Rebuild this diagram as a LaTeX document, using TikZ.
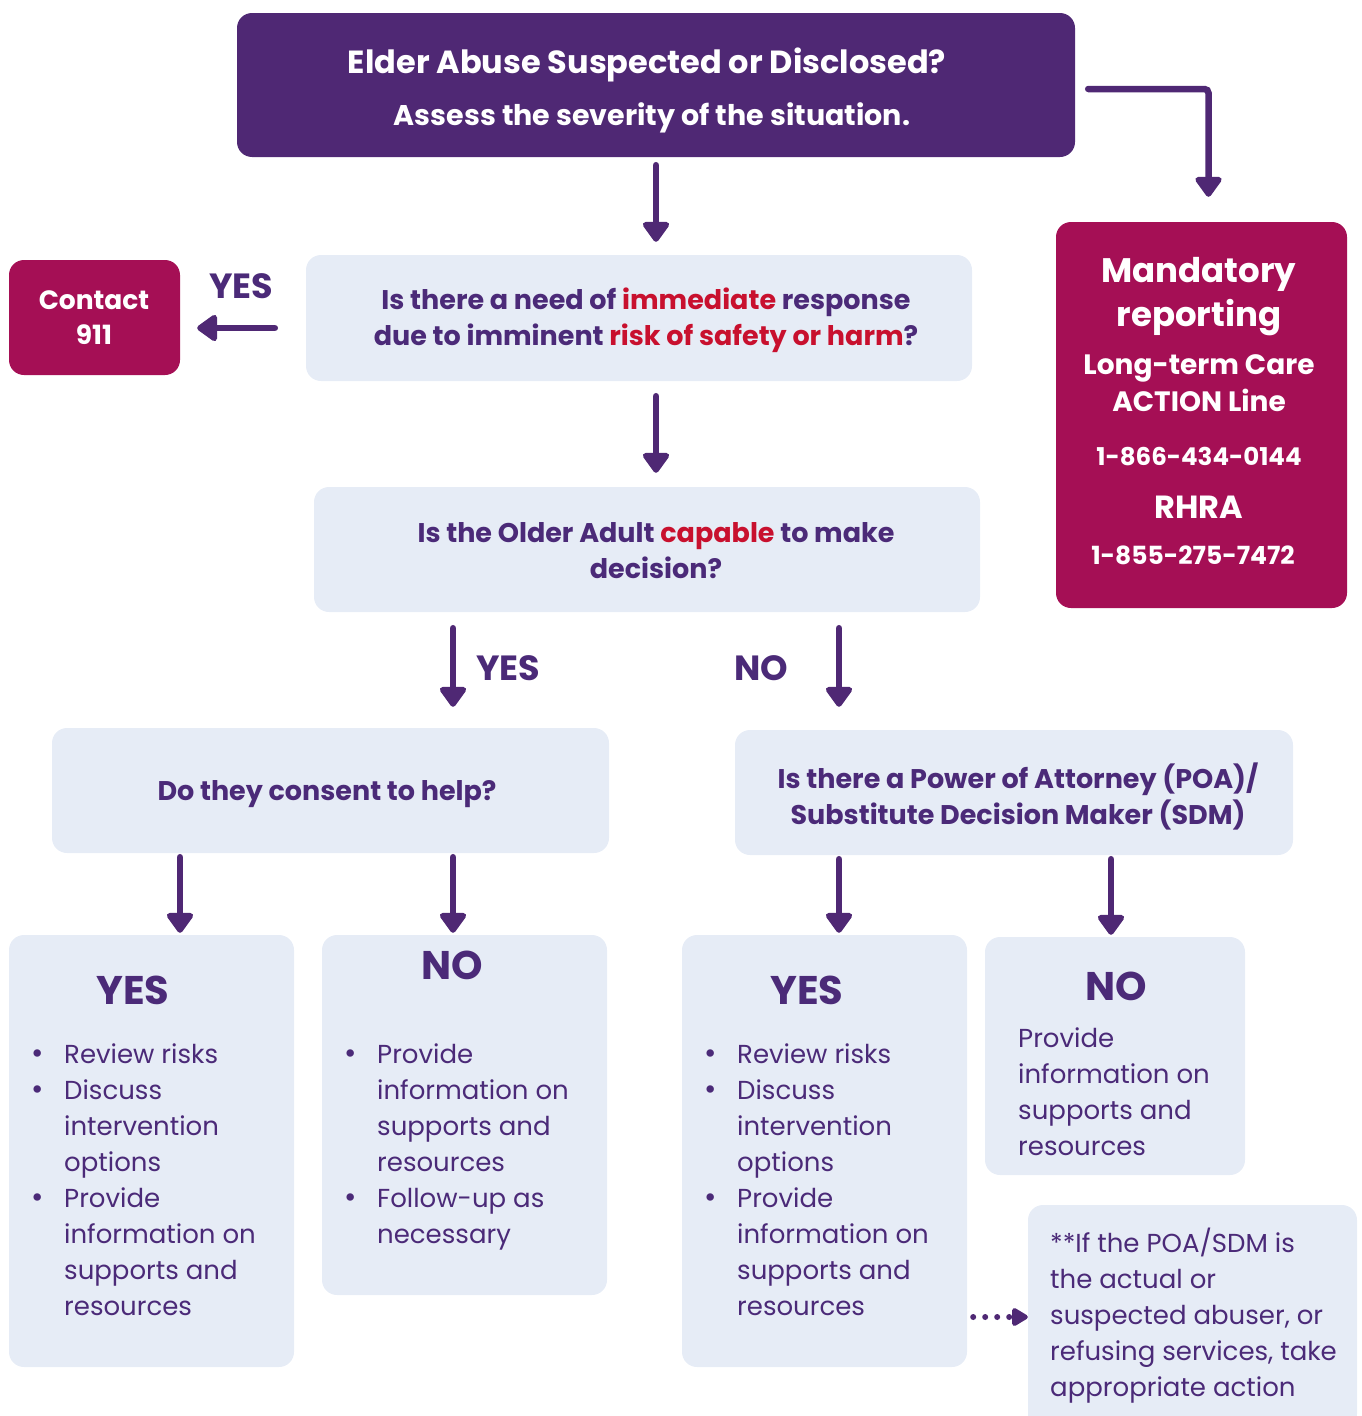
\documentclass[tikz,border=0pt]{standalone}
\usepackage{fontspec}
\setmainfont{Poppins}
\usetikzlibrary{arrows.meta,calc}
\definecolor{dpurple}{HTML}{4F2874}
\definecolor{tpurple}{HTML}{4B2A78}
\definecolor{magentabox}{HTML}{A50F55}
\definecolor{lightbox}{HTML}{E6ECF6}
\definecolor{redtext}{HTML}{C8102E}
\newcommand{\rd}[1]{\textcolor{redtext}{#1}}
\newcommand{\bul}{\makebox[0pt][r]{{\fontsize{30}{36}\selectfont •}\hspace{20pt}}}
\begin{document}
\begin{tikzpicture}[x=1pt,y=-1pt,
  panel/.style={rectangle, rounded corners=15pt, inner sep=0pt, fill=#1},
  arr/.style={draw=dpurple, line width=6.5pt, line cap=round, -{Triangle[width=30pt,length=22pt,round]}},
  btext/.style={text=tpurple, inner sep=0pt, font=\fontsize{26}{36}\selectfont, align=left, anchor=base west},
  qtext/.style={text=tpurple, inner sep=0pt, font=\bfseries\fontsize{27}{36}\selectfont, align=center, anchor=base},
  wtext/.style={text=white, inner sep=0pt, font=\bfseries, align=center, anchor=base},
  head/.style={text=tpurple, inner sep=0pt, font=\bfseries\fontsize{40}{44}\selectfont, anchor=base},
  lab/.style={text=tpurple, inner sep=0pt, font=\bfseries\fontsize{35}{40}\selectfont, anchor=base}]
\useasboundingbox (0,0) rectangle (1362,1416);
% panels
\node[panel=dpurple, minimum width=838pt, minimum height=144pt] (top) at (656,85) {};
\node[panel=magentabox, minimum width=291pt, minimum height=386pt] (mand) at (1201.5,415) {};
\node[panel=magentabox, minimum width=171pt, minimum height=115pt] (c911) at (94.5,317.5) {};
\node[panel=lightbox, minimum width=666pt, minimum height=126pt] (q1) at (639,318) {};
\node[panel=lightbox, minimum width=666pt, minimum height=125pt] (q2) at (647,549.5) {};
\node[panel=lightbox, minimum width=557pt, minimum height=125pt] (q3) at (330.5,790.5) {};
\node[panel=lightbox, minimum width=558pt, minimum height=125pt] (q4) at (1014,792.5) {};
\node[panel=lightbox, minimum width=285pt, minimum height=432pt] (bA) at (151.5,1151) {};
\node[panel=lightbox, minimum width=285pt, minimum height=360pt] (bB) at (464.5,1115) {};
\node[panel=lightbox, minimum width=285pt, minimum height=432pt] (bC) at (824.5,1151) {};
\node[panel=lightbox, minimum width=260pt, minimum height=238pt] (bD) at (1115,1056) {};
\node[panel=lightbox, minimum width=329pt, minimum height=224pt] (note) at (1192.5,1317) {};
% texts
\node[wtext, font=\bfseries\fontsize{32}{36}\selectfont] (t1) at (647,73) {Elder Abuse Suspected or Disclosed?};
\node[wtext, font=\bfseries\fontsize{28.5}{36}\selectfont] (t2) at (652,125) {Assess the severity of the situation.};
\node[wtext, font=\bfseries\fontsize{34}{44}\selectfont] (m1) at (1199,326) {Mandatory\\reporting};
\node[wtext, font=\bfseries\fontsize{28}{37}\selectfont] (m2) at (1199,411) {Long-term Care\\ACTION Line};
\node[wtext, font=\bfseries\fontsize{24.5}{36}\selectfont] (m3) at (1199,465) {1-866-434-0144};
\node[wtext, font=\bfseries\fontsize{32}{36}\selectfont] (m4) at (1199,518) {RHRA};
\node[wtext, font=\bfseries\fontsize{25}{36}\selectfont] (m5) at (1193,564) {1-855-275-7472};
\node[wtext, font=\bfseries\fontsize{26.5}{35}\selectfont] (c1) at (94,344) {Contact\\911};
\node[qtext] (q1t) at (646,345.5) {Is there a need of \rd{immediate} response\\due to imminent \rd{risk of safety or harm}?};
\node[qtext] (q2t) at (656,578) {Is the Older Adult \rd{capable} to make\\decision?};
\node[qtext] (q3t) at (327,800) {Do they consent to help?};
\node[qtext] (q4t) at (1018,824) {Is there a Power of Attorney (POA)/\\Substitute Decision Maker (SDM)};
\node[lab] (ly1) at (241,298) {YES};
\node[lab] (ly2) at (508,680) {YES};
\node[lab] (ln2) at (761,680) {NO};
\node[head] (hA) at (133,1004) {YES};
\node[head] (hB) at (452,979) {NO};
\node[head] (hC) at (807,1004) {YES};
\node[head] (hD) at (1116,1000) {NO};
\node[btext] (tA) at (64,1315) {\bul Review risks\\\bul Discuss\\intervention\\options\\\bul Provide\\information on\\supports and\\resources};
\node[btext] (tB) at (377,1243) {\bul Provide\\information on\\supports and\\resources\\\bul Follow-up as\\necessary};
\node[btext] (tC) at (737,1315) {\bul Review risks\\\bul Discuss\\intervention\\options\\\bul Provide\\information on\\supports and\\resources};
\node[btext] (tD) at (1018,1155) {Provide\\information on\\supports and\\resources};
\node[btext] (tN) at (1050,1396) {**If the POA/SDM is\\the actual or\\suspected abuser, or\\refusing services, take\\appropriate action};
% connectors
\draw[arr] ($(top.south)+(0,8)$) -- ($(top.south |- q1.north)+(0,-13)$);
\draw[arr, rounded corners=4pt] ($(top.east)+(13,4)$) -| ($(mand.north)+(7,-25)$);
\draw[arr] ($(q1.west)+(-31,10)$) -- ($(c911.east |- q1.west)+(17,10)$);
\draw[arr] ($(q1.south -| top.south)+(0,15)$) -- ($(q2.north -| top.south)+(0,-14)$);
\draw[arr] ($(q2.south)+(-194,16)$) -- ($(q3.north)+(122.5,-21)$);
\draw[arr] ($(q2.south)+(192,16)$) -- ($(q4.north)+(-175,-23)$);
\draw[arr] ($(q3.south)+(-150.5,4)$) -- ($(bA.north)+(28.5,-2)$);
\draw[arr] ($(q3.south)+(122.5,4)$) -- ($(bB.north)+(-11.5,-2)$);
\draw[arr] ($(q4.south)+(-175,4)$) -- ($(bC.north)+(14.5,-2)$);
\draw[arr] ($(q4.south)+(97,4)$) -- ($(bD.north)+(-4,-2)$);
\draw[draw=dpurple, line width=6pt, line cap=round, dash pattern=on 0pt off 12pt,
  -{Triangle[width=20pt,length=18pt,round]}] ($(bC.east |- note.west)+(6,0)$) -- (note.west);
\end{tikzpicture}
\end{document}
